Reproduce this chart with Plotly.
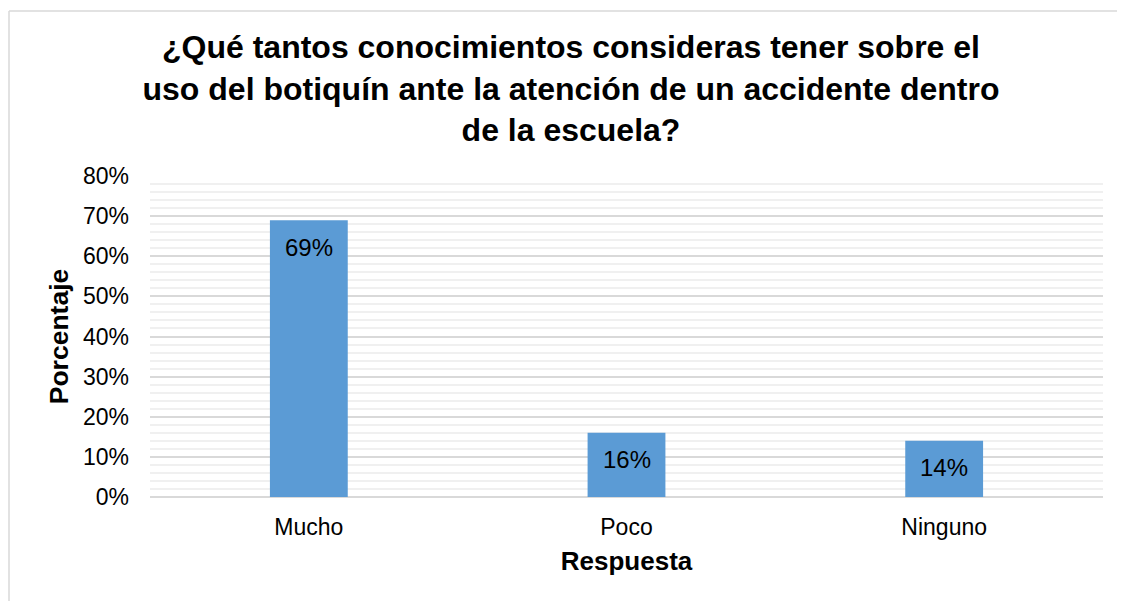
import plotly.graph_objects as go

categories = ["Mucho", "Poco", "Ninguno"]
values = [0.69, 0.16, 0.14]
labels = ["69%", "16%", "14%"]
tick_vals = [0, 0.1, 0.2, 0.3, 0.4, 0.5, 0.6, 0.7, 0.8]
tick_text = ["0%", "10%", "20%", "30%", "40%", "50%", "60%", "70%", "80%"]

# page body adds an 8px offset; figure coordinates compensate for it
OFF = 8
W, H = 1125 - OFF, 601 - OFF
L, T = 150 - OFF, 176 - OFF
R = W - (1103 - OFF)
B = H - (497 - OFF)
PW, PH = W - L - R, H - T - B

fig = go.Figure()
fig.add_trace(go.Bar(
    x=categories, y=values,
    marker=dict(color="#5B9BD5", line=dict(width=0)),
    hoverinfo="skip",
))

for c, v, t in zip(categories, values, labels):
    fig.add_annotation(x=c, y=v, text=t, showarrow=False, yanchor="middle",
                       yshift=-27, font=dict(size=24, color="#000000"))

fig.update_layout(
    width=W, height=H,
    margin=dict(l=L, r=R, t=T, b=B),
    paper_bgcolor="white", plot_bgcolor="white",
    font=dict(family="Liberation Sans, Arial, sans-serif", color="#000000"),
    bargap=0.755,
    showlegend=False,
    title=dict(
        text="<b>¿Qué tantos conocimientos consideras tener sobre el<br>uso del botiquín ante la atención de un accidente dentro<br>de la escuela?</b>",
        x=(571 - OFF) / W, xanchor="center", y=1 - (58 - OFF) / H, yanchor="middle", yref="container",
        font=dict(size=32, color="#000000"),
    ),
    xaxis=dict(
        showgrid=False, showline=False, ticks="",
        tickfont=dict(size=23), ticklabelstandoff=14,
        title=dict(text="<b>Respuesta</b>", font=dict(size=26), standoff=12),
    ),
    yaxis=dict(
        range=[0, 0.8], tickvals=tick_vals, ticktext=tick_text,
        tickfont=dict(size=23), ticklabelstandoff=20,
        showgrid=True, gridcolor="#D9D9D9", gridwidth=1.5,
        minor=dict(dtick=0.02, showgrid=True, gridcolor="#F0F0F0", gridwidth=1.5),
        zeroline=True, zerolinecolor="#D9D9D9", zerolinewidth=1.5,
        showline=False, ticks="",
        title=dict(text="<b>Porcentaje</b>", font=dict(size=26.5), standoff=6),
    ),
)

# outer chart border (left and top edges visible in reference)
bx = (9 - OFF - L) / PW
by = (H - B - (11 - OFF)) / PH
fig.add_shape(type="line", xref="paper", yref="paper",
              x0=bx, x1=(W + 20 - L) / PW, y0=by, y1=by,
              line=dict(color="#D9D9D9", width=1.5))
fig.add_shape(type="line", xref="paper", yref="paper",
              x0=bx, x1=bx, y0=by, y1=-(B + 20) / PH,
              line=dict(color="#D9D9D9", width=1.5))

fig.write_html("out.html")
